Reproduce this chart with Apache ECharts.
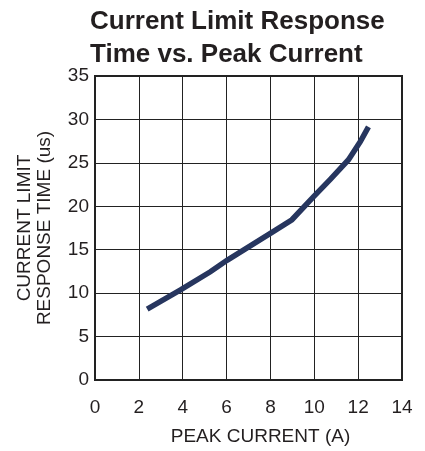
<!DOCTYPE html>
<html>
<head>
<meta charset="utf-8">
<script src="https://cdn.jsdelivr.net/npm/echarts@6/dist/echarts.min.js"></script>
<style>html,body{margin:0;padding:0;background:#fff}#c{width:425px;height:451px}</style>
</head>
<body>
<div id="c"></div>
<script>
var peakCurrent = [2.38, 3.9, 5.26, 6.02, 8.07, 8.98, 9.97, 10.73, 11.56, 12.1, 12.47];
var responseTime = [8.17, 10.37, 12.46, 13.78, 17.0, 18.45, 21.1, 23.1, 25.36, 27.45, 29.15];
var titleText = 'Current Limit Response\nTime vs. Peak Current';
var xName = 'PEAK CURRENT (A)';
var yName = 'CURRENT LIMIT\nRESPONSE TIME (us)';

var chart = echarts.init(document.getElementById('c'), null, {renderer: 'canvas'});
var pts = peakCurrent.map(function (x, i) { return [x, responseTime[i]]; });
var font = 'Liberation Sans, Arial, sans-serif';
chart.setOption({
  animation: false,
  title: {
    text: titleText,
    left: 90, top: 5, padding: 0,
    textStyle: {fontFamily: font, fontWeight: 'bold', fontSize: 26, lineHeight: 33, color: '#231f20'}
  },
  grid: {left: 95, right: 23, top: 76, bottom: 68, show: true, borderColor: '#222', borderWidth: 2},
  xAxis: {
    type: 'value', min: 0, max: 14, interval: 2,
    name: xName, nameLocation: 'middle', nameGap: 47,
    nameTextStyle: {fontFamily: font, fontSize: 19, color: '#231f20', padding: [0, 0, 0, 24]},
    axisLine: {show: true, lineStyle: {color: '#222', width: 2}},
    axisTick: {show: false},
    axisLabel: {fontFamily: font, fontSize: 19, color: '#231f20', margin: 18},
    splitLine: {show: true, lineStyle: {color: '#222', width: 1}}
  },
  yAxis: {
    type: 'value', min: 0, max: 35, interval: 5,
    name: yName, nameLocation: 'middle', nameGap: 40, nameRotate: 90,
    nameTextStyle: {fontFamily: font, fontSize: 19, lineHeight: 20, color: '#231f20'},
    axisLine: {show: true, lineStyle: {color: '#222', width: 2}},
    axisTick: {show: false},
    axisLabel: {fontFamily: font, fontSize: 19, color: '#231f20', margin: 6},
    splitLine: {show: true, lineStyle: {color: '#222', width: 1}}
  },
  series: [{
    type: 'line', data: pts, showSymbol: false, symbol: 'none',
    lineStyle: {color: '#27365f', width: 5.5, cap: 'butt', join: 'miter'}
  }]
});
</script>
</body>
</html>
